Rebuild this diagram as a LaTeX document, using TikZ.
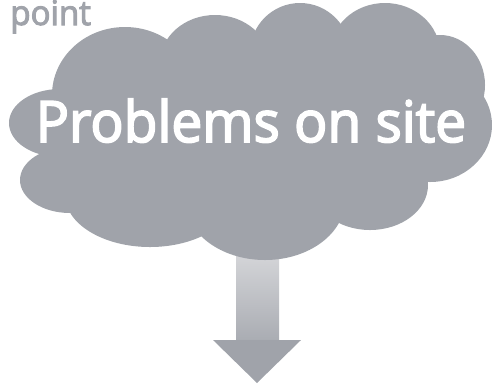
\documentclass[tikz,border=0pt]{standalone}
\usepackage{fontspec}
\setmainfont{Open Sans}
\newfontfamily\heavyfont[FakeBold=3, FakeStretch=0.965]{Open Sans}
\usepackage{tikz}
\definecolor{cloudgray}{RGB}{160,163,170}
\definecolor{shaftlight}{RGB}{214,215,218}
\tikzset{lobe/.style={fill=cloudgray}, title/.style={text=white, font=\heavyfont\fontsize{32.5}{33}\selectfont}}

\begin{document}
\begin{tikzpicture}[x=0.02cm, y=-0.02cm]
\useasboundingbox (0,0) rectangle (492,383);
\shade[top color=shaftlight, bottom color=cloudgray!90!white] (236,250) rectangle (279,341);
\fill[cloudgray] (213,340) -- (301,340) -- (257,383) coordinate (tip) -- cycle;
\foreach \cx/\cy/\rx/\ry in {60/123/51/34, 70/180/50/33, 150/195/85/52, 265/200/80/60,
  370/185/58/45, 430/125/62/57, 440/85/45/50, 385/53/55/50, 300/53/50/50,
  215/63/55/48, 125/95/73/68, 250/140/200/80}
  \fill[lobe] (\cx,\cy) ellipse [x radius=\rx, y radius=\ry];
\node[title, anchor=base] (problems) at (251,142) {Problems on site};
\node[text=cloudgray, font=\heavyfont\fontsize{19.5}{20}\selectfont, anchor=base west, inner sep=0pt] (point) at (10,25) {point};
\end{tikzpicture}
\end{document}
